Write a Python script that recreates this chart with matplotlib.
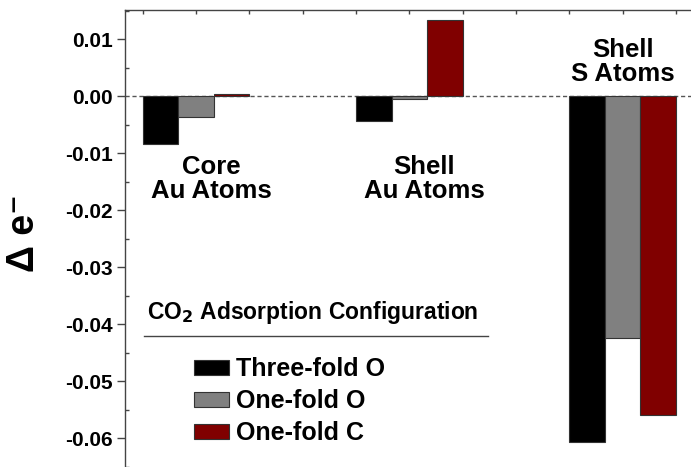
import numpy as np
import matplotlib
matplotlib.use('Agg')
import matplotlib.pyplot as plt
from matplotlib.lines import Line2D

plt.rcParams['font.family'] = ['Liberation Sans', 'DejaVu Sans']
plt.rcParams['font.weight'] = 'bold'

# charge change per atom group, one value per CO2 adsorption configuration
groups = ['Core\nAu Atoms', 'Shell\nAu Atoms', 'Shell\nS Atoms']
configs = ['Three-fold O', 'One-fold O', 'One-fold C']
three_fold_o = [-0.0083, -0.0043, -0.0607]
one_fold_o = [-0.0037, -0.0005, -0.0424]
one_fold_c = [0.0004, 0.0134, -0.0559]
colors = ['#000000', '#808080', '#800000']

yticks = [0.01, 0.00, -0.01, -0.02, -0.03, -0.04, -0.05, -0.06]

fig = plt.figure(figsize=(6.91, 4.67), dpi=100)
ax = fig.add_axes([125/691, 0.0, 566/691, 457/467])

x = np.arange(1, len(groups) + 1)
w = 1/6
series = [three_fold_o, one_fold_o, one_fold_c]
bars = []
for i, vals in enumerate(series):
    b = ax.bar(x + (i - 1) * w, vals, width=w, color=colors[i],
               edgecolor='#333333', linewidth=0.8, label=configs[i], zorder=3)
    bars.append(b)

ax.axhline(0, color='#555555', lw=1, ls=(0, (3, 2)), zorder=2)

ax.set_xlim(0.667, 3.321)
ax.set_ylim(-0.0643, 0.0151)

# group labels
ax.text(1.07, -0.0146, groups[0], ha='center', va='center', fontsize=18.5, linespacing=1.0)
ax.text(2.07, -0.0146, groups[1], ha='center', va='center', fontsize=18.5, linespacing=1.0)
ax.text(3.0, 0.0059, groups[2], ha='center', va='center', fontsize=18.5, linespacing=1.0)

for s in ['bottom', 'right']:
    ax.spines[s].set_visible(False)
for s in ['top', 'left']:
    ax.spines[s].set_color('#444444')
    ax.spines[s].set_linewidth(1.0)

ax.set_yticks(yticks)
ax.set_yticklabels(['%.2f' % v for v in yticks])
ax.set_yticks(np.arange(-0.065, 0.0151, 0.01), minor=True)
ax.tick_params(axis='y', which='major', direction='out', length=6, width=1,
               color='#444444', labelsize=15, pad=3)
ax.tick_params(axis='y', which='minor', direction='in', length=3, width=1, color='#444444')

ax.xaxis.tick_top()
ax.set_xticks(np.arange(0.75, 3.32, 0.25))
ax.tick_params(axis='x', which='major', direction='in', length=3, width=1,
               color='#444444', labeltop=False, labelbottom=False)

fig.text(24/691, 1 - 233/467, 'Δ e⁻', rotation=90, ha='center', va='center', fontsize=27)

# legend with underlined title
fig.text(313/691, 1 - 313/467, 'CO$_2$ Adsorption Configuration', ha='center', va='center', fontsize=16.5)
fig.add_artist(Line2D([144/691, 488/691], [1 - 336/467, 1 - 336/467], color='#444444', lw=1))
leg = ax.legend(handles=bars, loc='upper left', bbox_to_anchor=(194/691, 1 - 357/467),
                bbox_transform=fig.transFigure, frameon=False, fontsize=18,
                handlelength=1.4, handleheight=0.55, handletextpad=0.3,
                labelspacing=0.32, borderpad=0, borderaxespad=0)

fig.savefig('out.png', dpi=100)
